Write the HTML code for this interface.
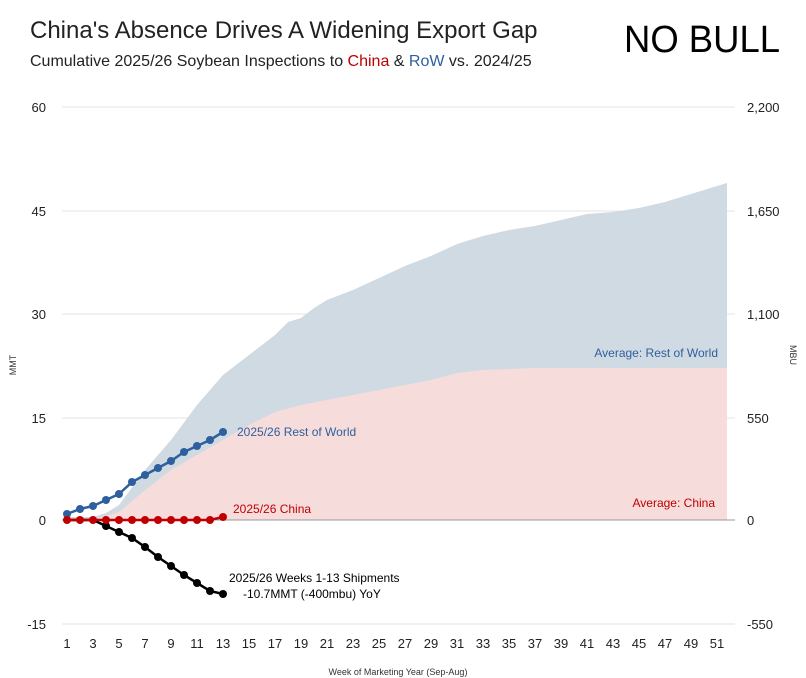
<!DOCTYPE html><html><head><meta charset="utf-8"><style>body{margin:0;background:#fff;width:806px;height:678px;overflow:hidden}svg{display:block;font-family:"Liberation Sans",sans-serif}</style></head><body>
<svg width="806" height="678" viewBox="0 0 806 678">
<text x="30" y="38" font-size="24" fill="#222">China's Absence Drives A Widening Export Gap</text>
<text x="30" y="66" font-size="16" fill="#222">Cumulative 2025/26 Soybean Inspections to <tspan fill="#c00000">China</tspan> &amp; <tspan fill="#2e5f9e">RoW</tspan> vs. 2024/25</text>
<text x="624" y="52" font-size="38" fill="#000" font-family="Liberation Sans Narrow,Liberation Sans,sans-serif" textLength="156" lengthAdjust="spacingAndGlyphs">NO BULL</text>
<g stroke="#e3e3e3" stroke-width="1">
<line x1="62" y1="107" x2="735" y2="107"/><line x1="62" y1="211" x2="735" y2="211"/><line x1="62" y1="314" x2="735" y2="314"/><line x1="62" y1="418" x2="735" y2="418"/><line x1="62" y1="624" x2="735" y2="624"/></g>
<path d="M67,517 L93,517 L106,513 L119,505 L145,470 L171,440 L197,405 L223,375 L249,355 L275,335 L288,322 L301,318 L314,308 L327,300 L353,290 L379,278 L405,266 L431,256 L457,244 L483,236 L509,230 L535,226 L561,220 L587,214 L613,212 L639,208 L665,202 L691,194 L717,186 L727,183 L727,520 L67,520Z" fill="#d0dae2"/>
<path d="M67,520 L93,520 L119,512 L145,490 L171,470 L197,455 L223,440 L249,425 L275,412 L301,405 L327,400 L353,395 L379,390 L405,385 L431,380 L457,373 L483,370 L509,369 L535,368 L727,368 L727,520Z" fill="#f7dcdc"/>
<line x1="62" y1="520" x2="735" y2="520" stroke="#999"/>
<g font-size="13" fill="#222" text-anchor="end"><text x="46" y="112">60</text><text x="46" y="216">45</text><text x="46" y="319">30</text><text x="46" y="423">15</text><text x="46" y="525">0</text><text x="46" y="629">-15</text></g>
<g font-size="13" fill="#222"><text x="747" y="112">2,200</text><text x="747" y="216">1,650</text><text x="747" y="319">1,100</text><text x="747" y="423">550</text><text x="747" y="525">0</text><text x="747" y="629">-550</text></g>
<text transform="translate(16,365) rotate(-90)" font-size="9" fill="#333" text-anchor="middle">MMT</text>
<text transform="translate(790,355) rotate(90)" font-size="9" fill="#333" text-anchor="middle">MBU</text>
<g font-size="13" fill="#222" text-anchor="middle">
<text x="67" y="648">1</text><text x="93" y="648">3</text><text x="119" y="648">5</text><text x="145" y="648">7</text><text x="171" y="648">9</text><text x="197" y="648">11</text><text x="223" y="648">13</text><text x="249" y="648">15</text><text x="275" y="648">17</text><text x="301" y="648">19</text><text x="327" y="648">21</text><text x="353" y="648">23</text><text x="379" y="648">25</text><text x="405" y="648">27</text><text x="431" y="648">29</text><text x="457" y="648">31</text><text x="483" y="648">33</text><text x="509" y="648">35</text><text x="535" y="648">37</text><text x="561" y="648">39</text><text x="587" y="648">41</text><text x="613" y="648">43</text><text x="639" y="648">45</text><text x="665" y="648">47</text><text x="691" y="648">49</text><text x="717" y="648">51</text></g>
<text x="398" y="675" font-size="9" fill="#333" text-anchor="middle">Week of Marketing Year (Sep-Aug)</text>
<g stroke-width="2.5" fill="none">
<polyline stroke="#2e5f9e" points="67,514 80,509 93,506 106,500 119,494 132,482 145,475 158,468 171,461 184,452 197,446 210,440 223,432"/>
<polyline stroke="#000" points="67,520 80,520 93,520 106,526 119,532 132,538 145,547 158,557 171,566 184,575 197,583 210,591 223,594"/>
<polyline stroke="#c00000" points="67,520 80,520 93,520 106,520 119,520 132,520 145,520 158,520 171,520 184,520 197,520 210,520 223,517"/></g>
<g fill="#2e5f9e"><circle cx="67" cy="514" r="4"/><circle cx="80" cy="509" r="4"/><circle cx="93" cy="506" r="4"/><circle cx="106" cy="500" r="4"/><circle cx="119" cy="494" r="4"/><circle cx="132" cy="482" r="4"/><circle cx="145" cy="475" r="4"/><circle cx="158" cy="468" r="4"/><circle cx="171" cy="461" r="4"/><circle cx="184" cy="452" r="4"/><circle cx="197" cy="446" r="4"/><circle cx="210" cy="440" r="4"/><circle cx="223" cy="432" r="4"/></g>
<g fill="#000"><circle cx="106" cy="526" r="4"/><circle cx="119" cy="532" r="4"/><circle cx="132" cy="538" r="4"/><circle cx="145" cy="547" r="4"/><circle cx="158" cy="557" r="4"/><circle cx="171" cy="566" r="4"/><circle cx="184" cy="575" r="4"/><circle cx="197" cy="583" r="4"/><circle cx="210" cy="591" r="4"/><circle cx="223" cy="594" r="4"/></g>
<g fill="#c00000"><circle cx="67" cy="520" r="4"/><circle cx="80" cy="520" r="4"/><circle cx="93" cy="520" r="4"/><circle cx="106" cy="520" r="4"/><circle cx="119" cy="520" r="4"/><circle cx="132" cy="520" r="4"/><circle cx="145" cy="520" r="4"/><circle cx="158" cy="520" r="4"/><circle cx="171" cy="520" r="4"/><circle cx="184" cy="520" r="4"/><circle cx="197" cy="520" r="4"/><circle cx="210" cy="520" r="4"/><circle cx="223" cy="517" r="4"/></g>
<text x="237" y="436" font-size="12" fill="#2e5f9e">2025/26 Rest of World</text>
<text x="233" y="513" font-size="12" fill="#c00000">2025/26 China</text>
<text x="229" y="582" font-size="12" fill="#000">2025/26 Weeks 1-13 Shipments</text>
<text x="243" y="598" font-size="12" fill="#000">-10.7MMT (-400mbu) YoY</text>
<text x="718" y="357" font-size="12" fill="#2e5f9e" text-anchor="end">Average: Rest of World</text>
<text x="715" y="507" font-size="12" fill="#c00000" text-anchor="end">Average: China</text>
</svg></body></html>
